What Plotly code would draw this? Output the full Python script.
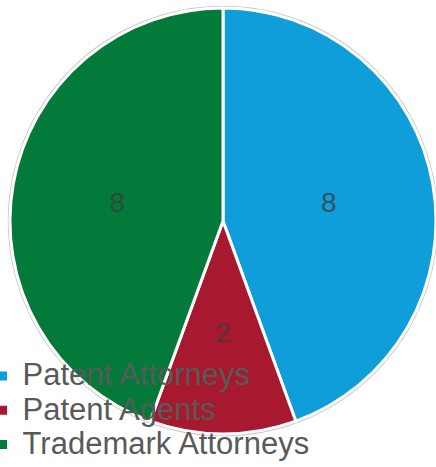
import plotly.graph_objects as go

labels = ["Patent Attorneys", "Patent Agents", "Trademark Attorneys"]
values = [8, 2, 8]
colors = ["#0f9ed9", "#a6192e", "#037a3a"]

W, H = 436, 467
cx, cy_top, r = 223, 221, 213
dx0, dx1 = (cx - r) / W, min(1.0, (cx + r) / W)
cyb = H - cy_top
dy0, dy1 = (cyb - r) / H, (cyb + r) / H
r2 = 150

legend_labels = ['<span style="font-size:31px">%s</span>' % s for s in labels]
tfont = dict(family="Liberation Sans, Arial", size=28, color="rgba(60,60,60,0.8)")

fig = go.Figure()
fig.add_trace(go.Pie(
    labels=legend_labels, values=values, sort=False, direction="clockwise", rotation=0,
    marker=dict(colors=colors, line=dict(color="white", width=3)),
    texttemplate=["%{value}" if v > 2 else "" for v in values],
    textposition="inside", insidetextorientation="horizontal",
    textfont=tfont, domain=dict(x=[dx0, dx1], y=[dy0, dy1]),
    hovertext=labels, hoverinfo="text+value",
))
fig.add_trace(go.Pie(
    labels=legend_labels, values=values, sort=False, direction="clockwise", rotation=0,
    marker=dict(colors=["rgba(0,0,0,0)"] * 3, line=dict(width=0)),
    texttemplate=["%{value}" if v <= 2 else "" for v in values],
    textposition="inside", insidetextorientation="horizontal",
    textfont=tfont, showlegend=False,
    domain=dict(x=[(cx - r2) / W, (cx + r2) / W], y=[(cyb - r2) / H, (cyb + r2) / H]),
    hoverinfo="skip",
))
fig.update_layout(
    width=W, height=H, margin=dict(l=0, r=0, t=0, b=0, autoexpand=False),
    paper_bgcolor="white",
    showlegend=True,
    legend=dict(x=-0.04, y=0.0, xanchor="left", yanchor="bottom", bgcolor="rgba(0,0,0,0)",
                font=dict(family="Liberation Sans, Arial", size=24, color="#595959"),
                tracegroupgap=0),
    shapes=[dict(type="circle", xref="paper", yref="paper", layer="below",
                 x0=(cx - r - 1.5) / W, x1=(cx + r + 1.5) / W,
                 y0=(cyb - r - 1.5) / H, y1=(cyb + r + 1.5) / H,
                 line=dict(color="#c8c8c8", width=1.5), fillcolor="rgba(0,0,0,0)")],
)
fig.write_html("out.html", post_script="document.body.style.margin='0';",
               config={"displayModeBar": False})
